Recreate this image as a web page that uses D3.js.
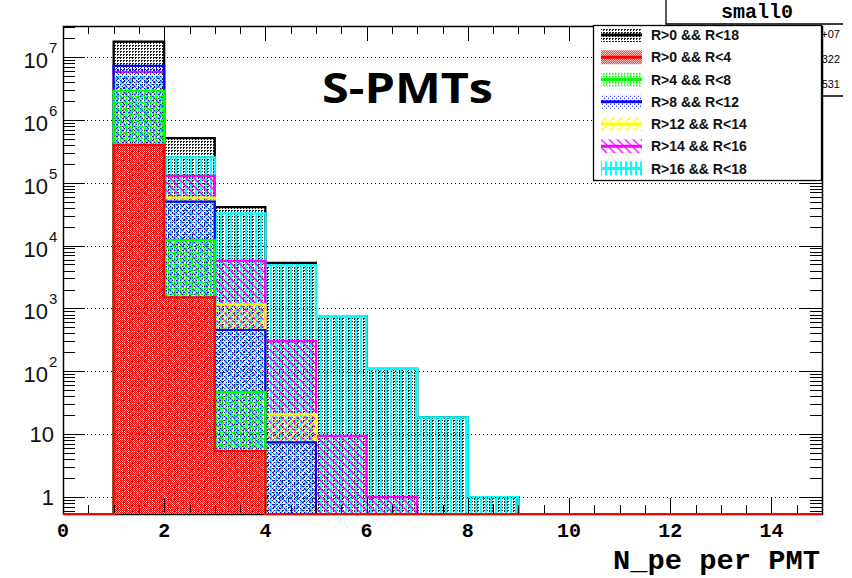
<!DOCTYPE html>
<meta charset='utf-8'>
<style>
  body { margin: 0; background: #fff; }
  svg { display: block; }
  .tick line { stroke: #000; stroke-width: 1; shape-rendering: crispEdges; }
</style>
<body>
<script src='https://cdn.jsdelivr.net/npm/d3@7/dist/d3.min.js'></script>
<script>
  // bin contents, bin i covers N_pe in [i, i+1)
  const rAll   = [0, 1.75e7, 5.1e5, 4.1e4, 5.3e3, 757, 109, 18.5, 1, 0, 0, 0, 0, 0, 0]
  const r0to4  = [0, 4.0e5, 1.5e3, 5.4, 0, 0, 0, 0, 0, 0, 0, 0, 0, 0, 0]
  const r4to8  = [0, 2.9e6, 1.22e4, 47, 0, 0, 0, 0, 0, 0, 0, 0, 0, 0, 0]
  const r8to12 = [0, 7.2e6, 5.0e4, 454, 7.4, 0, 0, 0, 0, 0, 0, 0, 0, 0, 0]
  const r12to14 = [0, 5.2e6, 5.8e4, 1.16e3, 20.7, 0, 0, 0, 0, 0, 0, 0, 0, 0, 0]
  const r14to16 = [0, 5.8e6, 1.28e5, 5.7e3, 303, 9.4, 1, 0, 0, 0, 0, 0, 0, 0, 0]
  const r16to18 = [0, 4.8e6, 2.54e5, 3.26e4, 4.9e3, 757, 109, 18.5, 1, 0, 0, 0, 0, 0, 0]

  const legendLabels = ['R>0 && R<18', 'R>0 && R<4', 'R>4 && R<8', 'R>8 && R<12',
                        'R>12 && R<14', 'R>14 && R<16', 'R>16 && R<18']
  const xTickLabels = [0, 2, 4, 6, 8, 10, 12, 14]
  const yDecades = [0, 1, 2, 3, 4, 5, 6, 7]
  const statValues = ['1.772e+07', '1.322', '0.5531']

  const series = [
    {key: 'black',   color: '#000000', vals: rAll},
    {key: 'red',     color: '#ff0000', vals: r0to4},
    {key: 'green',   color: '#00ff00', vals: r4to8},
    {key: 'blue',    color: '#0000ff', vals: r8to12},
    {key: 'yellow',  color: '#ffff00', vals: r12to14},
    {key: 'magenta', color: '#ff00ff', vals: r14to16},
    {key: 'cyan',    color: '#00ffff', vals: r16to18}
  ]
  // ROOT drew the total first, then the slices in reverse order
  const drawOrder = ['black', 'cyan', 'magenta', 'yellow', 'blue', 'green', 'red']

  const W = 852, H = 578
  const frame = {left: 63, right: 822, top: 26, bottom: 514}

  const x = d3.scaleLinear().domain([0, 15]).range([frame.left, frame.right])
  const y = d3.scaleLog().domain([0.537, 3.11e7]).range([frame.bottom, frame.top])

  const svg = d3.select('body').append('svg')
    .attr('width', W).attr('height', H)

  const defs = svg.append('defs')

  function pattern(id, w, h) {
    return defs.append('pattern')
      .attr('id', id)
      .attr('patternUnits', 'userSpaceOnUse')
      .attr('width', w).attr('height', h)
  }
  function px(p, color, rects) {
    rects.forEach(r => p.append('rect')
      .attr('x', r[0]).attr('y', r[1]).attr('width', r[2]).attr('height', r[3])
      .attr('fill', color).attr('shape-rendering', 'crispEdges'))
  }

  px(pattern('p-black', 3, 3), '#222', [[0, 0, 2, 1], [0, 1, 1, 1]])
  px(pattern('p-red', 2, 2), '#ff0000', [[0, 0, 1, 1], [1, 1, 1, 1]])
  px(pattern('p-green', 3, 3), '#00ff00', [[0, 0, 2, 1], [0, 2, 1, 1]])
  px(pattern('p-blue', 4, 4), '#0000ff', [[0, 0, 1, 1], [2, 2, 1, 1]])
  px(pattern('p-cyan', 5, 5), '#00ffff', [[0, 0, 2, 5]])
  pattern('p-yellow', 8, 8).append('path')
    .attr('d', 'M0,8L8,0M-2,2L2,-2M6,10L10,6')
    .attr('stroke', '#ffff00').attr('stroke-width', 1.3)
  pattern('p-magenta', 8, 8).append('path')
    .attr('d', 'M0,0L8,8M-2,6L2,10M6,-2L10,2')
    .attr('stroke', '#ff00ff').attr('stroke-width', 1.3)

  defs.append('clipPath').attr('id', 'frame-clip')
    .append('rect')
    .attr('x', frame.left - 1).attr('y', frame.top)
    .attr('width', frame.right - frame.left + 2).attr('height', frame.bottom - frame.top + 2)

  // stats box peeking out behind the legend
  const stats = svg.append('g')
  stats.append('path')
    .attr('d', `M666,0V24H843M666,96H843`)
    .attr('fill', 'none').attr('stroke', '#000').attr('stroke-width', 1.3)
  stats.append('text')
    .attr('x', 757).attr('y', 18)
    .attr('text-anchor', 'middle')
    .attr('font-family', 'Liberation Mono, monospace').attr('font-weight', 'bold')
    .attr('font-size', 20)
    .text('small0')
  stats.selectAll('.stat').data(statValues).join('text')
    .attr('class', 'stat')
    .attr('x', 840).attr('y', (d, i) => 38 + i * 25)
    .attr('text-anchor', 'end')
    .attr('font-family', 'Liberation Sans, Arial, sans-serif')
    .attr('font-size', 11)
    .text(d => d)

  // frame
  svg.append('rect')
    .attr('x', frame.left + 0.5).attr('y', frame.top + 0.5)
    .attr('width', frame.right - frame.left).attr('height', frame.bottom - frame.top)
    .attr('fill', 'none').attr('stroke', '#000').attr('stroke-width', 1.5)

  function histPath(vals) {
    const yb = frame.bottom
    let d = `M${x(0)},${yb}`
    vals.forEach((v, i) => {
      d += `V${v > 0 ? y(v) : yb}H${x(i + 1)}`
    })
    return d + `V${yb}`
  }

  const hists = svg.append('g').attr('clip-path', 'url(#frame-clip)')
  drawOrder.forEach(k => {
    const s = series.find(d => d.key === k)
    const d = histPath(s.vals)
    hists.append('path')
      .attr('d', d + 'Z')
      .attr('fill', `url(#p-${k})`)
      .attr('stroke', 'none')
    hists.append('path')
      .attr('d', d)
      .attr('fill', 'none')
      .attr('stroke', s.color)
      .attr('stroke-width', 2.2)
      .attr('stroke-linejoin', 'miter')
  })

  // dotted grid on the decades
  svg.append('g').selectAll('line').data(yDecades).join('line')
    .attr('x1', frame.left).attr('x2', frame.right)
    .attr('y1', d => Math.round(y(Math.pow(10, d))) + 0.5)
    .attr('y2', d => Math.round(y(Math.pow(10, d))) + 0.5)
    .attr('stroke', '#000').attr('stroke-width', 1)
    .attr('stroke-dasharray', '1,3')

  // log ticks, left and mirrored on the right
  const yMinor = []
  for (let n = -1; n <= 7; n++) {
    for (let k = 2; k <= 9; k++) {
      const v = k * Math.pow(10, n)
      if (v >= y.domain()[0] && v <= y.domain()[1]) yMinor.push(v)
    }
  }
  const yMajor = yDecades.map(d => Math.pow(10, d))

  function ticks(tx, ty, axis, vals, size) {
    svg.append('g').attr('class', 'tick')
      .attr('transform', `translate(${tx},${ty})`)
      .call(axis.tickValues(vals).tickSize(size).tickFormat(''))
      .call(g => g.select('.domain').remove())
  }
  ticks(frame.left, 0, d3.axisRight(y), yMajor, 22)
  ticks(frame.left, 0, d3.axisRight(y), yMinor, 12)
  ticks(frame.right, 0, d3.axisLeft(y), yMajor, 22)
  ticks(frame.right, 0, d3.axisLeft(y), yMinor, 12)

  // x ticks every 0.5, longer every 2, bottom and top
  const xMinor = d3.range(0.5, 15, 0.5).filter(v => v % 2 !== 0)
  const xMajor = d3.range(2, 15, 2)
  ticks(0, frame.bottom - 1, d3.axisTop(x), xMajor, 15)
  ticks(0, frame.bottom - 1, d3.axisTop(x), xMinor, 8)
  ticks(0, frame.top, d3.axisBottom(x), xMajor, 15)
  ticks(0, frame.top, d3.axisBottom(x), xMinor, 8)

  // y labels
  const yLab = svg.append('g')
    .attr('font-family', 'Liberation Sans, Arial, sans-serif')
    .attr('fill', '#111')
  yDecades.forEach(n => {
    const ty = y(Math.pow(10, n))
    if (n < 2) {
      yLab.append('text')
        .attr('x', 54).attr('y', ty + 8)
        .attr('text-anchor', 'end').attr('font-size', 22)
        .text(n === 0 ? '1' : '10')
    } else {
      yLab.append('text')
        .attr('x', 48).attr('y', ty + 11)
        .attr('text-anchor', 'end').attr('font-size', 22)
        .text('10')
      yLab.append('text')
        .attr('x', 49).attr('y', ty - 4)
        .attr('font-size', 15)
        .text(n)
    }
  })

  // x labels
  svg.append('g').selectAll('text').data(xTickLabels).join('text')
    .attr('x', d => x(d)).attr('y', 537)
    .attr('text-anchor', 'middle')
    .attr('font-family', 'Liberation Mono, monospace').attr('font-weight', 'bold')
    .attr('font-size', 20)
    .text(d => d)

  svg.append('text')
    .attr('x', 820).attr('y', 569)
    .attr('text-anchor', 'end')
    .attr('font-family', 'Liberation Mono, monospace').attr('font-weight', 'bold')
    .attr('font-size', 28)
    .attr('textLength', 207).attr('lengthAdjust', 'spacingAndGlyphs')
    .text('N_pe per PMT')

  svg.append('text')
    .attr('x', 322).attr('y', 103)
    .attr('font-family', 'Open Sans, sans-serif').attr('font-weight', 'bold')
    .attr('font-size', 42)
    .attr('textLength', 171).attr('lengthAdjust', 'spacingAndGlyphs')
    .text('S-PMTs')

  // legend
  const lg = svg.append('g')
  lg.append('rect')
    .attr('x', 593.5).attr('y', 25.5)
    .attr('width', 228).attr('height', 155)
    .attr('fill', '#fff').attr('stroke', '#000').attr('stroke-width', 1.3)
  const rows = lg.selectAll('.row').data(series).join('g')
    .attr('class', 'row')
    .attr('transform', (d, i) => `translate(0,${35 + i * 22.25})`)
  rows.append('rect')
    .attr('x', 601).attr('y', -7)
    .attr('width', 41).attr('height', 14)
    .attr('fill', d => `url(#p-${d.key})`)
  rows.append('line')
    .attr('x1', 601).attr('x2', 642)
    .attr('stroke', d => d.color).attr('stroke-width', 3)
  rows.append('text')
    .attr('x', 651).attr('y', 5)
    .attr('font-family', 'Liberation Sans, Arial, sans-serif')
    .attr('font-weight', 'bold').attr('font-size', 14)
    .attr('fill', '#111')
    .text((d, i) => legendLabels[i])
</script>
</body>
